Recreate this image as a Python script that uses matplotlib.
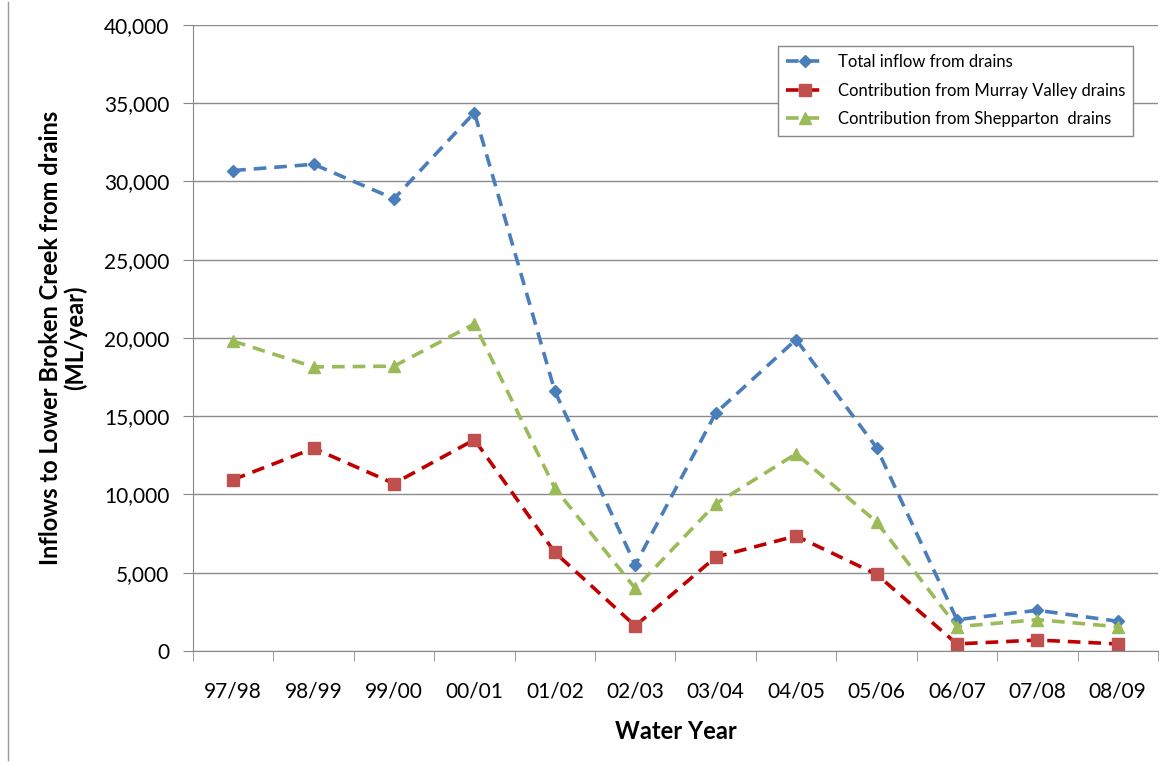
import matplotlib
matplotlib.use("Agg")
import matplotlib.pyplot as plt
from matplotlib.lines import Line2D
from matplotlib.ticker import FuncFormatter, FixedLocator

plt.rcParams['font.family'] = ['Lato', 'DejaVu Sans']

# Data
years = ['97/98', '98/99', '99/00', '00/01', '01/02', '02/03',
         '03/04', '04/05', '05/06', '06/07', '07/08', '08/09']
total = [30700, 31100, 28900, 34400, 16600, 5500,
         15200, 19900, 13000, 2000, 2600, 1900]
murray = [10950, 12950, 10700, 13500, 6300, 1600,
          6000, 7350, 4900, 450, 700, 450]
shepp = [19800, 18150, 18200, 20900, 10400, 4000,
         9400, 12600, 8250, 1550, 2000, 1550]

fig = plt.figure(figsize=(11.66, 7.62), dpi=100)
ax = fig.add_axes([0.1655, 0.1457, 0.8276, 0.8215])

x = list(range(len(years)))
dash = (0, (3.5, 2.2))
ax.plot(x, total, color='#4a7ebb', ls=dash, lw=2.6, marker='D', ms=6.5,
        mfc='#4a7ebb', mec='#4a7ebb', label='Total inflow from drains')
ax.plot(x, murray, color='#c00000', ls=dash, lw=2.6, marker='s', ms=8.5,
        mfc='#c0504d', mec='#c0504d', label='Contribution from Murray Valley drains')
ax.plot(x, shepp, color='#9bbb59', ls=dash, lw=2.6, marker='^', ms=8.5,
        mfc='#9bbb59', mec='#9bbb59', label='Contribution from Shepparton  drains')

ax.set_xlim(-0.5, len(years) - 0.5)
ax.set_ylim(0, 40000)
ax.set_yticks(range(0, 40001, 5000))
ax.yaxis.set_major_formatter(FuncFormatter(lambda v, p: f'{int(v):,}'))
ax.set_xticks(x)
ax.set_xticklabels(years)
ax.xaxis.set_minor_locator(FixedLocator([i - 0.5 for i in range(len(years) + 1)]))
ax.tick_params(axis='x', which='major', length=0, pad=22, labelsize=15)
ax.tick_params(axis='x', which='minor', length=7, color='#888888', direction='out')
ax.tick_params(axis='y', length=7, color='#888888', direction='out', labelsize=15, pad=10)

ax.grid(axis='y', color='#8c8c8c', lw=1)
ax.set_axisbelow(True)
for s in ['top', 'right']:
    ax.spines[s].set_visible(False)
for s in ['left', 'bottom']:
    ax.spines[s].set_color('#888888')

ax.set_xlabel('Water Year', fontsize=17, fontweight='bold', labelpad=13)
ax.set_ylabel('Inflows to Lower Broken Creek from drains\n(ML/year)',
              fontsize=17, fontweight='bold', labelpad=12, linespacing=1.1)

leg = ax.legend(loc='upper right', bbox_to_anchor=(0.983, 0.98), fontsize=12,
                fancybox=False, edgecolor='#888888', framealpha=1,
                handlelength=2.3, borderpad=0.5, labelspacing=0.75)
leg.get_frame().set_linewidth(1)

fig.add_artist(Line2D([8 / 1166, 8 / 1166], [0.003, 0.997], color='#999999', lw=1))

fig.savefig('out.png', dpi=100)
